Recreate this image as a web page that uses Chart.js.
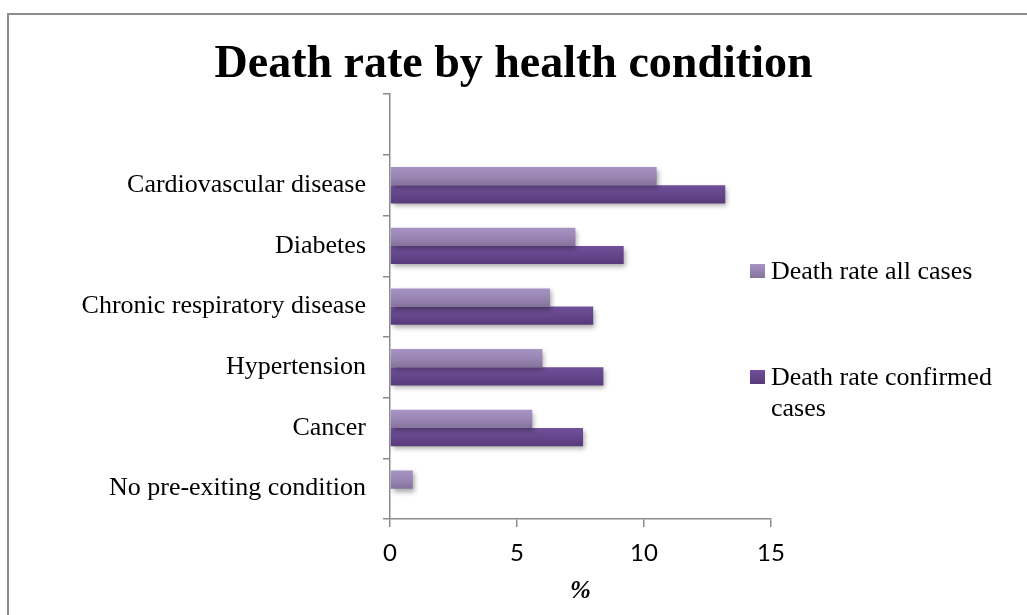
<!DOCTYPE html>
<html lang="en">
<head>
    <meta charset="UTF-8">
    <title>Death rate by health condition</title>
    <script src="https://cdn.jsdelivr.net/npm/chart.js"></script>
    <style>
        body {
            margin: 0;
            background: #ffffff;
            overflow: hidden;
        }
        .frame {
            position: absolute;
            left: 7px;
            top: 13px;
            width: 1040px;
            height: 700px;
            border: 2px solid #8c8c8c;
            box-sizing: border-box;
        }
        .wrap {
            position: absolute;
            left: 0;
            top: 0;
            width: 1027px;
            height: 615px;
        }
        .legend {
            position: absolute;
            left: 750px;
            font-family: "Liberation Serif", "Times New Roman", serif;
            font-size: 26px;
            line-height: 31px;
            color: #000;
        }
        .legend .box {
            position: absolute;
            left: 0;
            top: 9px;
            width: 15px;
            height: 14px;
        }
        .legend .text {
            margin-left: 21px;
            width: 235px;
        }
    </style>
</head>
<body>
    <div class="frame"></div>
    <div class="wrap">
        <canvas id="chart"></canvas>
    </div>
    <div class="legend" style="top:255px;">
        <div class="box" style="background: linear-gradient(#a794c4, #85739c);"></div>
        <div class="text" id="legend0"></div>
    </div>
    <div class="legend" style="top:361px;">
        <div class="box" style="background: linear-gradient(#70509a, #573a7a);"></div>
        <div class="text" id="legend1"></div>
    </div>

    <script>
        // values (%)
        const categories = ['', 'Cardiovascular disease', 'Diabetes', 'Chronic respiratory disease', 'Hypertension', 'Cancer', 'No pre-exiting condition'];
        const seriesNames = ['Death rate all cases', 'Death rate confirmed cases'];
        const allCases = [null, 10.5, 7.3, 6.3, 6.0, 5.6, 0.9];
        const confirmedCases = [null, 13.2, 9.2, 8.0, 8.4, 7.6, null];
        const xTicks = [0, 5, 10, 15];

        const gradientStops = [
            ['#a794c4', '#9a86b3', '#85739c'],
            ['#70509a', '#65468c', '#573a7a']
        ];

        document.getElementById('legend0').textContent = seriesNames[0];
        document.getElementById('legend1').textContent = seriesNames[1];

        // vertical gradient + soft drop shadow on every bar
        const barLook = {
            id: 'barLook',
            afterLayout(chart) {
                // centre the title over the whole canvas, not just the padded area
                const t = chart.titleBlock;
                if (t) {
                    t.left = 0;
                    t.right = chart.width;
                    t.width = chart.width;
                }
            },
            beforeDatasetsDraw(chart) {
                const ctx = chart.ctx;
                chart.data.datasets.forEach((ds, i) => {
                    const meta = chart.getDatasetMeta(i);
                    meta.data.forEach(el => {
                        const h = el.height;
                        const g = ctx.createLinearGradient(0, el.y - h / 2, 0, el.y + h / 2);
                        g.addColorStop(0, gradientStops[i][0]);
                        g.addColorStop(0.5, gradientStops[i][1]);
                        g.addColorStop(1, gradientStops[i][2]);
                        el.options.backgroundColor = g;
                    });
                });
                ctx.save();
                ctx.shadowColor = 'rgba(0, 0, 0, 0.35)';
                ctx.shadowBlur = 5;
                ctx.shadowOffsetX = 2;
                ctx.shadowOffsetY = 3;
            },
            afterDatasetsDraw(chart) {
                chart.ctx.restore();
            }
        };

        const serif = 'Liberation Serif';

        new Chart(document.getElementById('chart'), {
            type: 'bar',
            data: {
                labels: categories,
                datasets: [{
                    label: seriesNames[0],
                    data: allCases,
                    backgroundColor: () => gradientStops[0][1],
                    borderWidth: 0
                }, {
                    label: seriesNames[1],
                    data: confirmedCases,
                    backgroundColor: () => gradientStops[1][1],
                    borderWidth: 0
                }]
            },
            options: {
                indexAxis: 'y',
                responsive: true,
                maintainAspectRatio: false,
                animation: false,
                datasets: {
                    bar: { categoryPercentage: 0.6, barPercentage: 1.0 }
                },
                layout: { padding: { left: 0, right: 256, top: 0, bottom: 0 } },
                plugins: {
                    legend: { display: false },
                    tooltip: { enabled: false },
                    title: {
                        display: true,
                        text: 'Death rate by health condition',
                        color: '#000',
                        font: { family: serif, size: 46, weight: 'bold' },
                        padding: { top: 38, bottom: 1 }
                    }
                },
                scales: {
                    x: {
                        min: 0,
                        max: 15,
                        afterBuildTicks: axis => {
                            axis.ticks = xTicks.map(v => ({ value: v }));
                        },
                        afterFit: axis => { axis.height = 96; },
                        grid: {
                            drawOnChartArea: false,
                            tickLength: 8,
                            color: '#8c8c8c',
                            lineWidth: 1.5
                        },
                        border: { color: '#8c8c8c', width: 1.5 },
                        ticks: {
                            color: '#000',
                            padding: 12,
                            font: { family: 'Lato', size: 24 }
                        },
                        title: {
                            display: true,
                            text: '%',
                            color: '#000',
                            font: { family: serif, size: 25, weight: 'bold', style: 'italic' },
                            padding: { top: 0, bottom: 8 }
                        }
                    },
                    y: {
                        afterFit: axis => { axis.width = 390; },
                        grid: {
                            drawOnChartArea: false,
                            tickLength: 7,
                            color: '#8c8c8c',
                            lineWidth: 1.5
                        },
                        border: { color: '#8c8c8c', width: 1.5 },
                        ticks: {
                            color: '#000',
                            padding: 17,
                            font: { family: serif, size: 26 }
                        }
                    }
                }
            },
            plugins: [barLook]
        });
    </script>
</body>
</html>
